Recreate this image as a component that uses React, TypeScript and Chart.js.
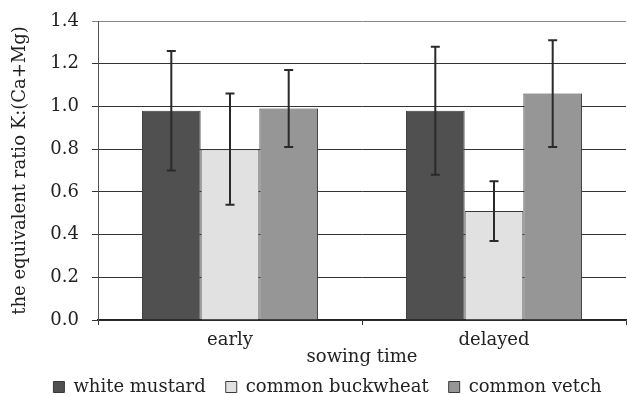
import React, { useEffect, useRef } from "react";
import { Chart, registerables } from "chart.js";

Chart.register(...registerables);

const categories = ["early", "delayed"];
const seriesNames = ["white mustard", "common buckwheat", "common vetch"];
const mustard = [0.98, 0.98];
const buckwheat = [0.8, 0.51];
const vetch = [0.99, 1.06];
const mustardLow = [0.7, 0.68];
const mustardHigh = [1.26, 1.28];
const buckwheatLow = [0.54, 0.37];
const buckwheatHigh = [1.06, 0.65];
const vetchLow = [0.81, 0.81];
const vetchHigh = [1.17, 1.31];
const yTicks = [0, 0.2, 0.4, 0.6, 0.8, 1.0, 1.2, 1.4];

const FONT = "DejaVu Serif";
const FS = 18;

const errorBarPlugin = {
  id: "errorBars",
  afterDatasetsDraw(chart: any) {
    const ctx = chart.ctx;
    const y = chart.scales.y;
    chart.data.datasets.forEach((ds: any, di: number) => {
      const meta = chart.getDatasetMeta(di);
      meta.data.forEach((bar: any, i: number) => {
        const lo = y.getPixelForValue(ds.errLow[i]);
        const hi = y.getPixelForValue(ds.errHigh[i]);
        const x = bar.x;
        ctx.save();
        ctx.strokeStyle = "#2a2a2a";
        ctx.lineWidth = 2;
        ctx.beginPath();
        ctx.moveTo(x, lo);
        ctx.lineTo(x, hi);
        ctx.moveTo(x - 4.5, lo);
        ctx.lineTo(x + 4.5, lo);
        ctx.moveTo(x - 4.5, hi);
        ctx.lineTo(x + 4.5, hi);
        ctx.stroke();
        ctx.restore();
      });
    });
  },
};

export default function App() {
  const ref = useRef<HTMLCanvasElement | null>(null);
  useEffect(() => {
    if (!ref.current) return;
    const chart = new Chart(ref.current, {
      type: "bar",
      data: {
        labels: categories,
        datasets: [
          { label: seriesNames[0], data: mustard, errLow: mustardLow, errHigh: mustardHigh, backgroundColor: "#505050", borderColor: "#3a3a3a", borderWidth: 1 } as any,
          { label: seriesNames[1], data: buckwheat, errLow: buckwheatLow, errHigh: buckwheatHigh, backgroundColor: "#e1e1e1", borderColor: "#3a3a3a", borderWidth: 1 } as any,
          { label: seriesNames[2], data: vetch, errLow: vetchLow, errHigh: vetchHigh, backgroundColor: "#969696", borderColor: "#3a3a3a", borderWidth: 1 } as any,
        ],
      },
      options: {
        animation: false,
        responsive: true,
        maintainAspectRatio: false,
        layout: { padding: { top: 21, right: 1, left: 29, bottom: -11 } },
        datasets: { bar: { barPercentage: 1, categoryPercentage: 0.667 } },
        plugins: {
          legend: {
            position: "bottom",
            labels: {
              font: { family: FONT, size: FS },
              color: "#222",
              boxWidth: 11,
              boxHeight: 11,
              padding: 20,
            },
          },
          tooltip: { enabled: false },
        },
        scales: {
          x: {
            afterFit: (scale: any) => {
              scale.height = 38;
              scale.paddingLeft = 0;
              scale.paddingRight = 0;
            },
            grid: { offset: true, drawOnChartArea: false, tickLength: 5, color: "#333" },
            border: { color: "#222", width: 1.5 },
            ticks: { font: { family: FONT, size: FS }, color: "#222", padding: 5 },
            title: { display: true, text: "sowing time", font: { family: FONT, size: FS }, color: "#222", padding: { top: 0, bottom: -10 } },
          },
          y: {
            min: 0,
            max: 1.4,
            afterBuildTicks: (scale: any) => {
              scale.ticks = yTicks.map((v) => ({ value: v }));
            },
            afterFit: (scale: any) => {
              scale.width = 69;
              scale.paddingTop = 0;
              scale.paddingBottom = 0;
            },
            grid: {
              color: (c: any) => (c.tick && c.tick.value === 1.4 ? "#888" : "#333"),
              tickLength: 6,
            },
            border: { color: "#555" },
            ticks: {
              font: { family: FONT, size: FS },
              color: "#222",
              padding: 13,
              callback: (v: any) => Number(v).toFixed(1),
            },
            title: { display: true, text: "the equivalent ratio K:(Ca+Mg)", font: { family: FONT, size: FS }, color: "#222", padding: { top: -19, bottom: 0 } },
          },
        },
      },
      plugins: [errorBarPlugin],
    });
    return () => chart.destroy();
  }, []);
  return (
    <div style={{ position: "fixed", left: 0, top: 0, width: 627, height: 395, background: "#fff" }}>
      <canvas ref={ref} />
    </div>
  );
}
